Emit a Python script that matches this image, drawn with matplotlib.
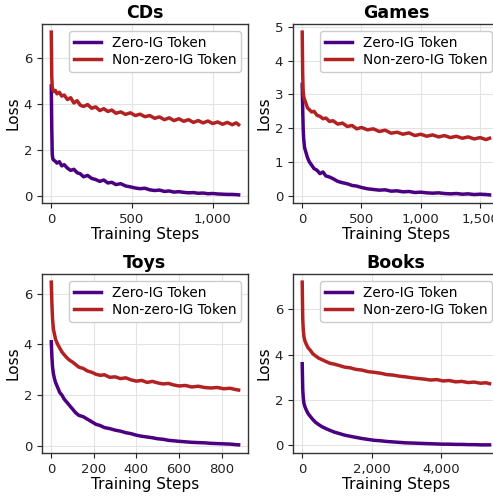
import matplotlib
matplotlib.use('Agg')
import matplotlib.pyplot as plt
from matplotlib.ticker import FuncFormatter

# loss curves
cds_steps = [0, 3, 6, 10, 15, 25, 35, 50, 65, 80, 100, 120, 140, 160, 180, 200, 225, 250, 275, 300,
             325, 350, 375, 400, 430, 460, 490, 520, 550, 580, 610, 640, 670, 700, 730, 760, 790, 820,
             850, 880, 910, 940, 970, 1000, 1030, 1060, 1090, 1120, 1145, 1160]
cds_nonzero = [7.15, 5.2, 4.75, 4.62, 4.55, 4.6, 4.45, 4.52, 4.35, 4.4, 4.2, 4.28, 4.05, 4.15, 3.95,
               3.9, 3.98, 3.82, 3.88, 3.72, 3.8, 3.68, 3.74, 3.6, 3.66, 3.55, 3.62, 3.5, 3.56, 3.45,
               3.5, 3.38, 3.44, 3.32, 3.4, 3.28, 3.36, 3.25, 3.32, 3.2, 3.28, 3.18, 3.26, 3.15, 3.22,
               3.12, 3.2, 3.1, 3.18, 3.1]
cds_zero = [4.8, 3.0, 1.8, 1.6, 1.55, 1.5, 1.42, 1.48, 1.3, 1.35, 1.2, 1.1, 1.15, 1.0, 0.95, 0.82,
            0.88, 0.75, 0.7, 0.62, 0.68, 0.55, 0.58, 0.48, 0.52, 0.42, 0.38, 0.33, 0.3, 0.32, 0.25,
            0.22, 0.24, 0.18, 0.2, 0.15, 0.17, 0.14, 0.12, 0.13, 0.1, 0.11, 0.08, 0.09, 0.07, 0.06,
            0.05, 0.05, 0.04, 0.03]

games_steps = [0, 4, 8, 12, 20, 30, 45, 60, 80, 100, 125, 150, 175, 200, 230, 260, 300, 340, 380,
               420, 460, 500, 550, 600, 650, 700, 750, 800, 850, 900, 950, 1000, 1050, 1100, 1150,
               1200, 1250, 1300, 1350, 1400, 1450, 1500, 1550, 1580]
games_nonzero = [4.85, 3.6, 3.1, 2.95, 2.85, 2.75, 2.6, 2.55, 2.48, 2.5, 2.38, 2.35, 2.28, 2.3, 2.2,
                 2.22, 2.12, 2.15, 2.05, 2.08, 1.98, 2.02, 1.95, 1.98, 1.9, 1.94, 1.85, 1.88, 1.82,
                 1.86, 1.78, 1.82, 1.76, 1.8, 1.74, 1.78, 1.72, 1.76, 1.7, 1.74, 1.68, 1.72, 1.66, 1.7]
games_zero = [3.3, 2.6, 2.0, 1.7, 1.42, 1.3, 1.12, 1.0, 0.9, 0.8, 0.75, 0.65, 0.7, 0.58, 0.55, 0.5,
              0.42, 0.38, 0.35, 0.3, 0.28, 0.24, 0.2, 0.18, 0.16, 0.17, 0.13, 0.14, 0.11, 0.12, 0.09,
              0.1, 0.08, 0.07, 0.08, 0.06, 0.05, 0.06, 0.04, 0.05, 0.03, 0.04, 0.03, 0.02]

toys_steps = [0, 3, 6, 10, 15, 20, 30, 40, 50, 60, 70, 85, 100, 115, 130, 150, 170, 190, 210, 230,
              250, 275, 300, 325, 350, 375, 400, 425, 450, 475, 500, 525, 550, 575, 600, 630, 660,
              690, 720, 750, 780, 810, 840, 865, 880]
toys_nonzero = [6.45, 5.6, 5.0, 4.6, 4.4, 4.2, 4.0, 3.85, 3.7, 3.6, 3.5, 3.38, 3.3, 3.2, 3.1, 3.05,
                2.95, 2.9, 2.82, 2.78, 2.8, 2.7, 2.72, 2.65, 2.68, 2.6, 2.55, 2.58, 2.5, 2.54, 2.48,
                2.44, 2.46, 2.4, 2.36, 2.38, 2.32, 2.35, 2.3, 2.28, 2.3, 2.25, 2.27, 2.22, 2.2]
toys_zero = [4.1, 3.5, 3.1, 2.85, 2.65, 2.5, 2.3, 2.1, 2.0, 1.85, 1.75, 1.6, 1.45, 1.3, 1.2, 1.15,
             1.05, 0.95, 0.85, 0.8, 0.72, 0.68, 0.62, 0.58, 0.52, 0.48, 0.42, 0.38, 0.35, 0.32, 0.28,
             0.26, 0.22, 0.2, 0.18, 0.16, 0.14, 0.13, 0.12, 0.1, 0.09, 0.08, 0.07, 0.05, 0.04]

books_steps = [0, 15, 30, 50, 80, 120, 170, 230, 300, 380, 470, 570, 680, 800, 930, 1070, 1220,
               1380, 1550, 1720, 1900, 2080, 2260, 2440, 2620, 2800, 2980, 3160, 3340, 3520, 3700,
               3880, 4060, 4240, 4420, 4600, 4780, 4960, 5140, 5300, 5400]
books_nonzero = [7.2, 5.6, 5.1, 4.8, 4.6, 4.45, 4.3, 4.2, 4.05, 3.95, 3.85, 3.78, 3.7, 3.62, 3.58,
                 3.52, 3.45, 3.42, 3.35, 3.32, 3.25, 3.22, 3.18, 3.12, 3.1, 3.05, 3.02, 2.98, 2.95,
                 2.92, 2.88, 2.9, 2.84, 2.86, 2.8, 2.82, 2.77, 2.79, 2.74, 2.76, 2.72]
books_zero = [3.6, 2.5, 2.1, 1.85, 1.7, 1.55, 1.4, 1.28, 1.15, 1.02, 0.92, 0.82, 0.74, 0.66, 0.58,
              0.52, 0.45, 0.4, 0.35, 0.3, 0.26, 0.22, 0.2, 0.17, 0.15, 0.13, 0.11, 0.1, 0.09, 0.08,
              0.07, 0.06, 0.05, 0.05, 0.04, 0.04, 0.03, 0.03, 0.02, 0.02, 0.02]

panels = [
    ('CDs', cds_steps, cds_zero, cds_nonzero, [0, 500, 1000]),
    ('Games', games_steps, games_zero, games_nonzero, [0, 500, 1000, 1500]),
    ('Toys', toys_steps, toys_zero, toys_nonzero, [0, 200, 400, 600, 800]),
    ('Books', books_steps, books_zero, books_nonzero, [0, 2000, 4000]),
]

# axes rectangles in figure fraction (left, bottom, width, height)
rects = [
    (0.085, 0.594, 0.418, 0.358),
    (0.594, 0.594, 0.418, 0.358),
    (0.085, 0.094, 0.418, 0.358),
    (0.594, 0.094, 0.418, 0.358),
]

zero_color = '#4b0082'
nonzero_color = '#b22222'

fig = plt.figure(figsize=(4.93, 5.0), dpi=100)

for (name, steps, zero, nonzero, xticks), rect in zip(panels, rects):
    ax = fig.add_axes(rect)
    ax.plot(steps, zero, color=zero_color, linewidth=2.5, label='Zero-IG Token')
    ax.plot(steps, nonzero, color=nonzero_color, linewidth=2.5, label='Non-zero-IG Token')
    ax.set_title(name, fontsize=12.5, fontweight='bold', pad=4)
    ax.set_xlabel('Training Steps', fontsize=11, labelpad=1)
    ax.set_ylabel('Loss', fontsize=11, labelpad=2)
    ax.set_xticks(xticks)
    ax.xaxis.set_major_formatter(FuncFormatter(lambda v, p: f'{int(v):,}'))
    ax.tick_params(labelsize=9.5, colors='#222222', length=3.5)
    ax.grid(True, color='#e3e3e3', linewidth=0.8)
    ax.set_axisbelow(True)
    for s in ax.spines.values():
        s.set_color('#333333')
        s.set_linewidth(1.0)
    ax.legend(loc='upper right', fontsize=9.8, handlelength=2.0, borderpad=0.35,
              labelspacing=0.25, handletextpad=0.8, framealpha=1.0, edgecolor='#cccccc')

fig.savefig('out.png', dpi=100)
